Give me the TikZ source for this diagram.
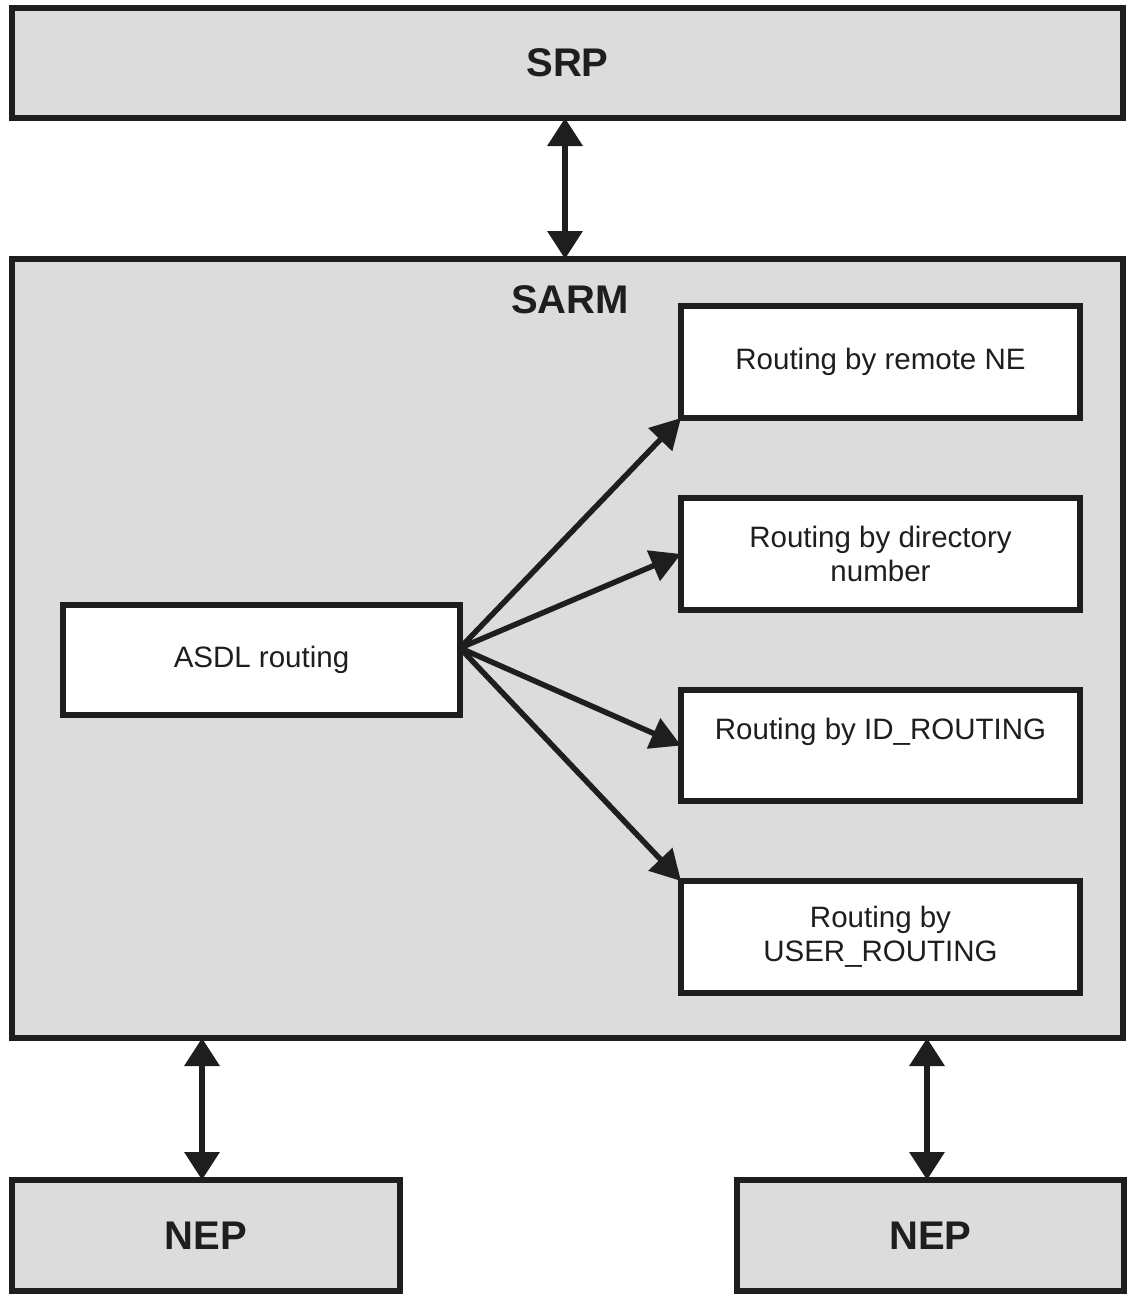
\documentclass[tikz,border=0pt]{standalone}
\usepackage{fontspec}
\setmainfont{Liberation Sans}
\usetikzlibrary{arrows.meta}
\definecolor{ink}{HTML}{1E1E1E}
\definecolor{panel}{HTML}{DCDCDC}
\begin{document}
\begin{tikzpicture}[x=1pt,y=-1pt,
  box/.style={draw=ink,line width=6.5pt,rectangle,inner sep=0pt,outer sep=0pt,
    text=ink,align=center},
  greybox/.style={box,fill=panel,font=\fontsize{40}{46}\selectfont\bfseries},
  whitebox/.style={box,fill=white,font=\fontsize{29.5}{34}\selectfont},
  link/.style={draw=ink,line width=6.5pt,{Triangle[length=28pt,width=34pt]}-{Triangle[length=28pt,width=34pt]}},
  fan/.style={draw=ink,line width=5.5pt,-{Triangle[length=30pt,width=32pt]}}]
  \useasboundingbox (0,0) rectangle (1128,1295);

  % outer blocks
  \node[greybox,minimum width=1111pt,minimum height=110pt] (srp) at (567.5,63) {SRP};
  \node[greybox,minimum width=1111pt,minimum height=779pt] (sarm) at (567.5,648.5) {};
  \node[text=ink,font=\fontsize{40}{46}\selectfont\bfseries] (sarmtitle) at (570,300) {SARM};
  \node[greybox,minimum width=388pt,minimum height=111pt] (nepL) at (206,1235.5) {NEP};
  \node[greybox,minimum width=387pt,minimum height=111pt] (nepR) at (930.5,1235.5) {NEP};

  % routing blocks inside SARM
  \node[whitebox,minimum width=397pt,minimum height=110pt] (asdl) at (261.5,660) {ASDL routing};
  \node[whitebox,minimum width=399pt,minimum height=112pt] (r1) at (880.5,362) {Routing by remote NE};
  \node[whitebox,minimum width=399pt,minimum height=112pt] (r2) at (880.5,554) {Routing by directory\\number};
  \node[whitebox,minimum width=399pt,minimum height=111pt] (r3) at (880.5,745.5) {Routing by ID\_ROUTING\\\mbox{}};
  \node[whitebox,minimum width=399pt,minimum height=112pt] (r4) at (880.5,937) {Routing by\\USER\_ROUTING};

  % vertical links
  \draw[link] ([xshift=-2.5pt]srp.south) -- ([xshift=-2.5pt]sarm.north);
  \draw[link] ([xshift=-4pt]nepL.north) -- ([xshift=-4pt]nepL.north |- sarm.south);
  \draw[link] ([xshift=-3.5pt]nepR.north) -- ([xshift=-3.5pt]nepR.north |- sarm.south);

  % fan-out from ASDL routing
  \coordinate (hub) at ([yshift=12pt]asdl.east);
  \draw[fan] (hub) -- (r1.south west);
  \draw[fan] (hub) -- (r2.west);
  \draw[fan] (hub) -- (r3.west);
  \draw[fan] (hub) -- (r4.north west);
\end{tikzpicture}
\end{document}
